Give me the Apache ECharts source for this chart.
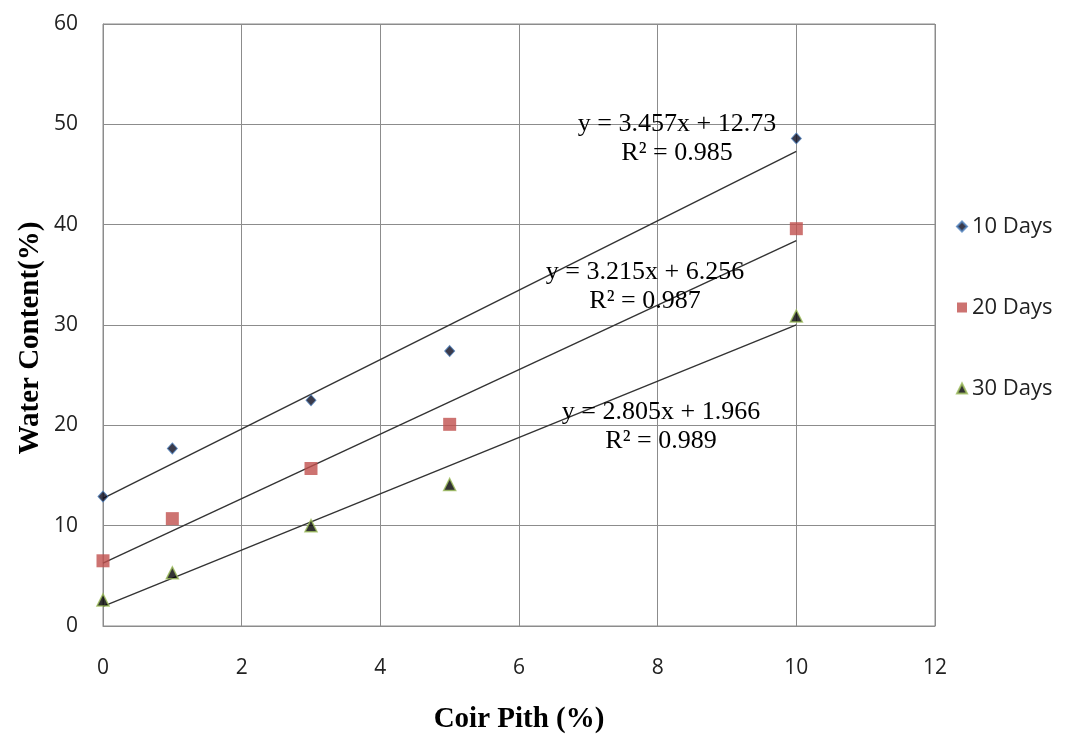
<!DOCTYPE html>
<html>
<head>
<meta charset="utf-8">
<script src="https://cdn.jsdelivr.net/npm/echarts@6/dist/echarts.min.js"></script>
<style>html,body{margin:0;padding:0;background:#fff}#c{width:1065px;height:738px}</style>
</head>
<body>
<div id="c"></div>
<script>
var xValues = [0, 1, 3, 5, 10];
var days10 = [12.9, 17.7, 22.5, 27.4, 48.6];
var days20 = [6.5, 10.7, 15.7, 20.1, 39.6];
var days30 = [2.6, 5.3, 10.0, 14.1, 30.9];
var seriesNames = ['10 Days', '20 Days', '30 Days'];
var slopes = [3.457, 3.215, 2.805];
var intercepts = [12.73, 6.256, 1.966];
var r2 = ['0.985', '0.987', '0.989'];
var eqLabels = ['y = 3.457x + 12.73', 'y = 3.215x + 6.256', 'y = 2.805x + 1.966'];
var xTitle = 'Coir Pith (%)';
var yTitle = 'Water Content(%)';

var chart = echarts.init(document.getElementById('c'));
function pts(arr){ return xValues.map(function(x,i){return [x, arr[i]];}); }
function trend(i){ return [[0, intercepts[i]], [10, slopes[i]*10 + intercepts[i]]]; }

var markerStyles = [
  {symbol:'diamond', symbolSize:[10,11], itemStyle:{color:'#0a0a1e', borderColor:'#4F81BD', borderWidth:1}},
  {symbol:'rect', symbolSize:13, itemStyle:{color:'#C0504D', borderColor:'#C0504D', borderWidth:0}},
  {symbol:'triangle', symbolSize:[12,12], itemStyle:{color:'#000', borderColor:'#9BBB59', borderWidth:1.5}}
];
var dataSets = [days10, days20, days30];
var series = [];
for (var i=0;i<3;i++){
  series.push({
    type:'line', data: trend(i), symbol:'none', silent:true,
    lineStyle:{color:'#333', width:1.4}, z:2, legendHoverLink:false
  });
}
for (var j=0;j<3;j++){
  series.push({
    name: seriesNames[j], type:'scatter', data: pts(dataSets[j]),
    symbol: markerStyles[j].symbol, symbolSize: markerStyles[j].symbolSize,
    itemStyle: markerStyles[j].itemStyle, z:3
  });
}

var eqPos = [[677,124],[645,272],[661,412]];
var serif = '"Liberation Serif", "Times New Roman", serif';
var graphics = [];
for (var k=0;k<3;k++){
  graphics.push({type:'text', x:eqPos[k][0], y:eqPos[k][1], style:{text:eqLabels[k], font:'26px ' + serif, fill:'#000', align:'center', verticalAlign:'middle'}, z:10});
  graphics.push({type:'text', x:eqPos[k][0], y:eqPos[k][1]+29, style:{text:'R\u00b2 = ' + r2[k], font:'26px ' + serif, fill:'#000', align:'center', verticalAlign:'middle'}, z:10});
}
graphics.push({type:'text', x:519, y:720, style:{text:xTitle, font:'bold 29px ' + serif, fill:'#000', align:'center', verticalAlign:'middle'}});
graphics.push({type:'text', x:31, y:338, rotation:Math.PI/2, style:{text:yTitle, font:'bold 29px ' + serif, fill:'#000', align:'center', verticalAlign:'middle'}});

chart.setOption({
  animation:false,
  backgroundColor:'#fff',
  grid:{left:103, right:130, top:24, bottom:112, show:true, borderColor:'#8c8c8c', borderWidth:1},
  xAxis:{type:'value', min:0, max:12, interval:2,
    axisLine:{show:true, lineStyle:{color:'#8c8c8c', width:1}}, axisTick:{show:false},
    axisLabel:{fontFamily:'Open Sans', fontSize:21, color:'#222', margin:32},
    splitLine:{show:true, lineStyle:{color:'#8c8c8c', width:1}}},
  yAxis:{type:'value', min:0, max:60, interval:10,
    axisLine:{show:true, lineStyle:{color:'#8c8c8c', width:1}}, axisTick:{show:false},
    axisLabel:{fontFamily:'Open Sans', fontSize:21, color:'#222', margin:25},
    splitLine:{show:true, lineStyle:{color:'#8c8c8c', width:1}}},
  legend:{orient:'vertical', left:951, top:209, itemGap:56, itemWidth:10, itemHeight:10,
    data: seriesNames.map(function(n, idx){ return {name:n, icon: markerStyles[idx].symbol}; }),
    textStyle:{fontFamily:'Open Sans', fontSize:22, color:'#222', lineHeight:25}},
  series: series,
  graphic: graphics
});
</script>
</body>
</html>
